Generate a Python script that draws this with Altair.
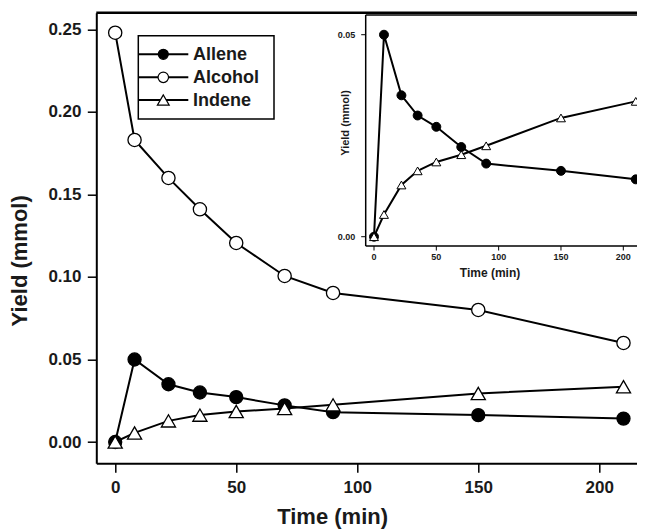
import altair as alt
import pandas as pd

# ---------------- data ----------------
time_min = [0, 8, 22, 35, 50, 70, 90, 150, 210]
allene = [0.0, 0.050, 0.035, 0.030, 0.0272, 0.0222, 0.0181, 0.0163, 0.0142]
alcohol = [0.248, 0.183, 0.160, 0.141, 0.1206, 0.1006, 0.0903, 0.080, 0.060]
indene = [0.0, 0.0055, 0.0128, 0.0163, 0.0185, 0.0203, 0.0225, 0.0294, 0.0335]
series_names = ["Allene", "Alcohol", "Indene"]
x_ticks = [0, 50, 100, 150, 200]
y_ticks = [0.00, 0.05, 0.10, 0.15, 0.20, 0.25]
inset_y_ticks = [0.00, 0.05]
x_title = "Time (min)"
y_title = "Yield (mmol)"

rows = []
for name, vals in zip(series_names, [allene, alcohol, indene]):
    for t, v in zip(time_min, vals):
        rows.append({"time": t, "yield": v, "series": name})
df = pd.DataFrame(rows)
inset_df = df[df["series"] != "Alcohol"].reset_index(drop=True)

# ---------------- layout ----------------
FONT = "Liberation Sans"
W, H = 546.0, 450.6          # plot area runs slightly past the visible right edge
TXT = "#1a1a1a"

marker_style = {
    "Allene": dict(shape="circle", fill="black"),
    "Alcohol": dict(shape="circle", fill="white"),
    "Indene": dict(shape="triangle-up", fill="white"),
}
main_size = {"Allene": 170, "Alcohol": 175, "Indene": 200}
inset_size = {"Allene": 80, "Indene": 80}

# ---------------- main plot ----------------
xscale = alt.Scale(domain=[-7.81, 217.77], nice=False, zero=False)
yscale = alt.Scale(domain=[-0.0129, 0.2601], nice=False, zero=False)

xaxis = alt.Axis(
    values=x_ticks, title=None, grid=False, orient="bottom",
    domainColor="black", domainWidth=2, tickColor="black", tickWidth=1.5, tickSize=9,
    labelFont=FONT, labelFontSize=17, labelFontWeight="bold", labelColor=TXT, labelPadding=7.5,
)
yaxis = alt.Axis(
    values=y_ticks, format=".2f", title=None, grid=False, orient="left",
    domainColor="black", domainWidth=2, tickColor="black", tickWidth=1.5, tickSize=9,
    labelFont=FONT, labelFontSize=17, labelFontWeight="bold", labelColor=TXT, labelPadding=6.3,
)

main_base = alt.Chart(df).encode(
    x=alt.X("time:Q", scale=xscale, axis=xaxis),
    y=alt.Y("yield:Q", scale=yscale, axis=yaxis),
)
main_layers = [main_base.mark_line(color="black", strokeWidth=2).encode(detail="series:N")]
for name in series_names:
    st = marker_style[name]
    main_layers.append(
        main_base.transform_filter(alt.datum.series == name)
        .mark_point(shape=st["shape"], filled=True, fill=st["fill"], stroke="black",
                    strokeWidth=1.3, size=main_size[name], opacity=1)
    )
main_layer = alt.layer(*main_layers)

# ---------------- inset (own scales; axes drawn with marks) ----------------
IX0, IX1 = 269.4, W
IY0, IY1 = 233.3, 2.3
ixscale = alt.Scale(domain=[-6.66, 215.24], range=[IX0, IX1], nice=False, zero=False)
iyscale = alt.Scale(domain=[-0.0023, 0.05488], range=[IY0, IY1], nice=False, zero=False)
IX = lambda: alt.X("time:Q", scale=ixscale, axis=None)
IY = lambda: alt.Y("yield:Q", scale=iyscale, axis=None)

inset_base = alt.Chart(inset_df).encode(x=IX(), y=IY())
inset_layers = [inset_base.mark_line(color="black", strokeWidth=2).encode(detail="series:N")]
for name in ["Allene", "Indene"]:
    st = marker_style[name]
    inset_layers.append(
        inset_base.transform_filter(alt.datum.series == name)
        .mark_point(shape=st["shape"], filled=True, fill=st["fill"], stroke="black",
                    strokeWidth=1, size=inset_size[name], opacity=1)
    )
one = pd.DataFrame({"k": [0]})
xt_df = pd.DataFrame({"time": x_ticks})
yt_df = pd.DataFrame({"yield": inset_y_ticks})
inset_layers.append(alt.Chart(one).mark_rule(color="black", strokeWidth=1.5).encode(
    x=alt.value(IX0), y=alt.value(IY1), y2=alt.value(IY0)))
inset_layers.append(alt.Chart(one).mark_rule(color="black", strokeWidth=1.5).encode(
    x=alt.value(IX0), x2=alt.value(IX1), y=alt.value(IY0)))
inset_layers.append(alt.Chart(one).mark_rule(color="black", strokeWidth=1.5).encode(
    x=alt.value(IX0), x2=alt.value(IX1), y=alt.value(IY1)))
inset_layers.append(alt.Chart(xt_df).mark_rule(color="black", strokeWidth=1).encode(
    x=IX(), y=alt.value(IY0), y2=alt.value(IY0 + 4.5)))
inset_layers.append(alt.Chart(yt_df).mark_rule(color="black", strokeWidth=1).encode(
    y=IY(), x=alt.value(IX0 - 4.5), x2=alt.value(IX0)))
inset_layers.append(alt.Chart(xt_df).mark_text(
    font=FONT, fontSize=9, fontWeight="bold", color=TXT, baseline="top", align="center").encode(
    x=IX(), y=alt.value(IY0 + 6.8), text=alt.Text("time:Q", format="d")))
inset_layers.append(alt.Chart(yt_df).mark_text(
    font=FONT, fontSize=9, fontWeight="bold", color=TXT, baseline="middle", align="right").encode(
    y=IY(), x=alt.value(IX0 - 10.5), text=alt.Text("yield:Q", format=".2f")))
inset_layer = alt.layer(*inset_layers)

# ---------------- titles (text marks) ----------------
title_layers = [
    alt.Chart(pd.DataFrame({"t": [x_title]})).mark_text(
        font=FONT, fontSize=22, fontWeight="bold", color=TXT, baseline="alphabetic", align="center"
    ).encode(x=alt.value(236.3), y=alt.value(511.3), text="t:N"),
    alt.Chart(pd.DataFrame({"t": [y_title]})).mark_text(
        font=FONT, fontSize=22, fontWeight="bold", color=TXT, baseline="alphabetic", align="center",
        angle=270
    ).encode(x=alt.value(-69.6), y=alt.value(248.1), text="t:N"),
    alt.Chart(pd.DataFrame({"t": [x_title]})).mark_text(
        font=FONT, fontSize=12, fontWeight="bold", color=TXT, baseline="alphabetic", align="center"
    ).encode(x=alt.value(393.7), y=alt.value(IY0 + 31), text="t:N"),
    alt.Chart(pd.DataFrame({"t": [y_title]})).mark_text(
        font=FONT, fontSize=11, fontWeight="bold", color=TXT, baseline="alphabetic", align="center",
        angle=270
    ).encode(x=alt.value(IX0 - 16.4), y=alt.value(110.3), text="t:N"),
]

# ---------------- frame line ----------------
top_line = alt.Chart(one).mark_rule(color="black", strokeWidth=2.5).encode(
    x=alt.value(0), x2=alt.value(W), y=alt.value(0)
)

# ---------------- legend ----------------
legend_layers = [
    alt.Chart(one).mark_rect(fill="white", stroke="black", strokeWidth=1.5).encode(
        x=alt.value(42), x2=alt.value(177.7), y=alt.value(23), y2=alt.value(106.3)
    )
]
row_y = [41.6, 64.6, 87.3]
legend_marker_size = {"Allene": 100, "Alcohol": 110, "Indene": 140}
for name, ry in zip(series_names, row_y):
    st = marker_style[name]
    ldf = pd.DataFrame({"label": [name]})
    legend_layers.append(alt.Chart(ldf).mark_rule(color="black", strokeWidth=2).encode(
        x=alt.value(42), x2=alt.value(92), y=alt.value(ry)))
    legend_layers.append(alt.Chart(ldf).mark_point(
        shape=st["shape"], filled=True, fill=st["fill"], stroke="black",
        strokeWidth=1.2, size=legend_marker_size[name], opacity=1).encode(
        x=alt.value(67), y=alt.value(ry)))
    legend_layers.append(alt.Chart(ldf).mark_text(
        align="left", baseline="middle", font=FONT, fontSize=18, fontWeight="bold", color=TXT).encode(
        x=alt.value(96.7), y=alt.value(ry + 1), text="label:N"))

chart = (
    alt.layer(main_layer, inset_layer, top_line, *legend_layers, *title_layers)
    .resolve_scale(x="independent", y="independent")
    .properties(
        width=W, height=H,
        padding={"left": 88.3, "top": 4.7, "right": -5.3, "bottom": 67.7},
        autosize=alt.AutoSizeParams(type="none"),
        background="white",
    )
    .configure_view(stroke=None)
)

chart.save("out.html", embed_options={"renderer": "svg", "actions": False})
